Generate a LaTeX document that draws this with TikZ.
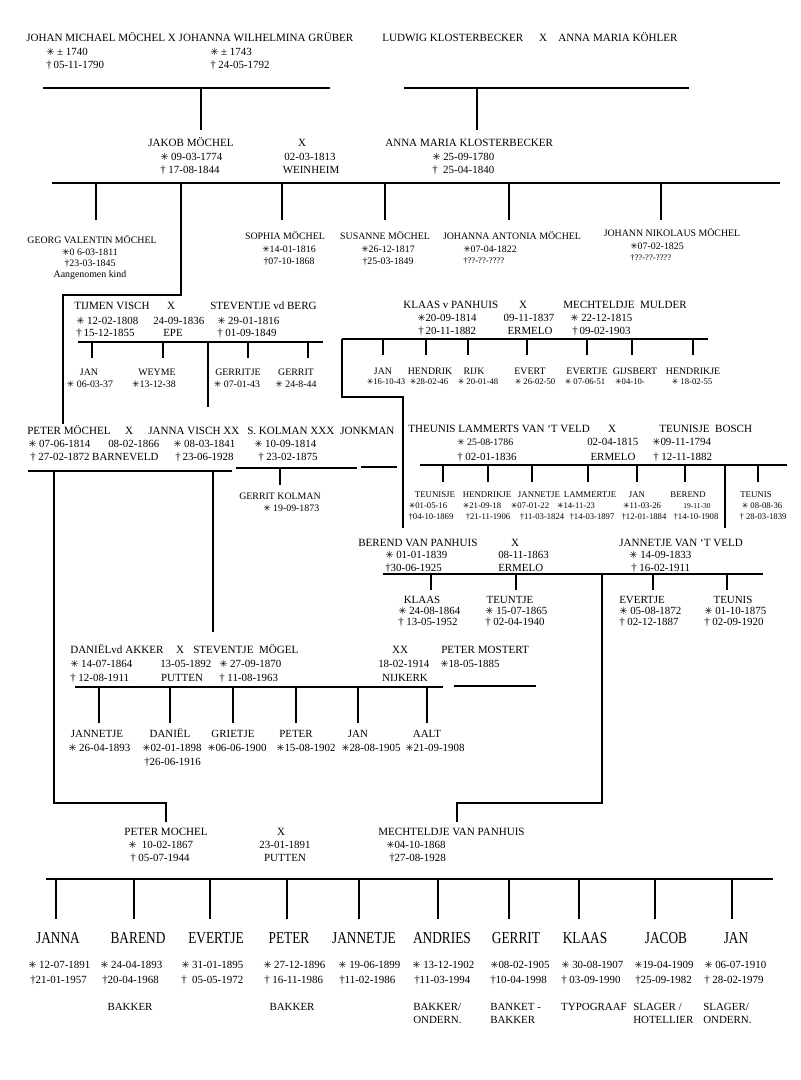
\documentclass[tikz,border=0pt]{standalone}
\usepackage{fontspec}
\usepackage{graphicx}
\setmainfont{Liberation Serif}
\newfontfamily\symf{DejaVu Sans}
\newcommand\geb{{\symf\scalebox{0.9}{✳}}}
\newcommand\gest{†}
\newcommand\tall[1]{\scalebox{1}[1.25]{#1}}

\tikzset{
  nm/.style={inner sep=0pt, font=\fontsize{8.3}{10}\selectfont, text height=5.5pt, text depth=0pt},
  dt/.style={inner sep=0pt, font=\fontsize{8.2}{10}\selectfont, text height=5.4pt, text depth=0pt},
  sm/.style={inner sep=0pt, font=\fontsize{7.4}{9}\selectfont, text height=4.9pt, text depth=0pt},
  tn/.style={inner sep=0pt, font=\fontsize{6.6}{8}\selectfont, text height=4.4pt, text depth=0pt},
  xs/.style={inner sep=0pt, font=\fontsize{6.5}{8}\selectfont, text height=4.3pt, text depth=0pt},
  bn/.style={inner sep=0pt, font=\fontsize{10}{12}\selectfont},
  famline/.style={line width=2.2pt},
  thinline/.style={line width=1.3pt},
  kidline/.style={line width=0.9pt},
}

\begin{document}
\begin{tikzpicture}[x=0.75pt, y=-0.75pt]
\fill[white] (0,0) rectangle (800,1080);

% Moechel x Grueber
\node[nm, anchor=west] (johan) at (26,38) {JOHAN MICHAEL MÖCHEL X JOHANNA WILHELMINA GRÜBER};
\node[dt, anchor=west] (johanb) at (46,52) {\geb\ ± 1740};
\node[dt, anchor=west] (johand) at (46,65) {\gest\,05-11-1790};
\node[dt, anchor=west] (johannab) at (210,52) {\geb\ ± 1743};
\node[dt, anchor=west] (johannad) at (210,65) {\gest\ 24-05-1792};
\coordinate (g1l) at (43,88);
\coordinate (g1r) at (330,88);
\coordinate (g1m) at (201,88);
\draw[famline] (g1l) -- (g1r);
\draw[famline] (g1m) -- ++(0,42);

% Klosterbecker x Koehler
\node[nm, anchor=west] (ludwig) at (382,38) {LUDWIG KLOSTERBECKER};
\node[nm] (x1) at (543,38) {X};
\node[nm, anchor=west] (koehler) at (558,38) {ANNA MARIA KÖHLER};
\coordinate (g2l) at (404,88);
\coordinate (g2r) at (689,88);
\coordinate (g2m) at (477,88);
\draw[thinline] (g2l) -- (g2r);
\draw[thinline] (g2m) -- ++(0,42);

% Jakob Moechel x Anna Maria Klosterbecker
\node[nm] (jakob) at (191,143) {JAKOB MÖCHEL};
\node[dt, anchor=west] (jakobb) at (160,157) {\geb\ 09-03-1774};
\node[dt, anchor=west] (jakobd) at (160,170) {\gest\ 17-08-1844};
\node[nm] (x2) at (302,143) {X};
\node[dt] (x2d) at (310,157) {02-03-1813};
\node[dt] (x2p) at (311,170) {WEINHEIM};
\node[nm, anchor=west] (annam) at (385,143) {ANNA MARIA KLOSTERBECKER};
\node[dt, anchor=west] (annamb) at (432,157) {\geb\ 25-09-1780};
\node[dt, anchor=west] (annamd) at (432,170) {\gest\ \ 25-04-1840};
\coordinate (g3l) at (52,183);
\coordinate (g3r) at (780,183);
\draw[famline] (g3l) -- (g3r);

\node[sm] (georg) at (92,240) {GEORG VALENTIN MÖCHEL};
\node[sm] (georgb) at (90,252) {\geb 0 6-03-1811};
\node[sm] (georgd) at (90,263) {\gest 23-03-1845};
\node[sm] (georgn) at (90,274) {Aangenomen kind};
\node[sm] (sophia) at (285,236) {SOPHIA MÖCHEL};
\node[sm] (sophiab) at (289,249) {\geb 14-01-1816};
\node[sm] (sophiad) at (289,261) {\gest 07-10-1868};
\node[sm] (susanne) at (385,236) {SUSANNE MÖCHEL};
\node[sm] (susanneb) at (388,249) {\geb 26-12-1817};
\node[sm] (susanned) at (388,261) {\gest 25-03-1849};
\node[sm] (johannaa) at (512,236) {JOHANNA ANTONIA MÖCHEL};
\node[sm, anchor=west] (johannaab) at (463,249) {\geb 07-04-1822};
\node[xs, anchor=west] (johannaad) at (463,261) {\gest ??-??-????};
\node[sm] (johannn) at (672,233) {JOHANN NIKOLAUS MÖCHEL};
\node[sm, anchor=west] (johannnb) at (630,246) {\geb 07-02-1825};
\node[xs, anchor=west] (johannnd) at (630,258) {\gest ??-??-????};
\draw[kidline] (georg |- g3l) ++(4,0) -- ++(0,37);
\draw[kidline] (sophia |- g3l) ++(-3,0) -- ++(0,37);
\draw[kidline] (susanne |- g3l) -- ++(0,37);
\draw[kidline] (johannaa |- g3l) ++(-3,0) -- ++(0,37);
\draw[kidline] (johannn |- g3l) ++(-11,0) -- ++(0,37);
\coordinate (pj) at (181,183);
\coordinate (pm) at (63,424);
\draw[famline] (pj) -- ++(0,112) -| (pm);

% Visch x vd Berg
\node[nm, anchor=west] (tijmen) at (74,306) {TIJMEN VISCH};
\node[nm] (x3) at (171,306) {X};
\node[nm, anchor=west] (stevb) at (210,306) {STEVENTJE vd BERG};
\node[dt, anchor=west] (tijmenb) at (76,321) {\geb\ 12-02-1808};
\node[dt, anchor=west] (x3d) at (153,321) {24-09-1836};
\node[dt, anchor=west] (stevbb) at (217,321) {\geb\ 29-01-1816};
\node[dt, anchor=west] (tijmend) at (76,333) {\gest\,15-12-1855};
\node[dt] (x3p) at (173,333) {EPE};
\node[dt, anchor=west] (stevbd) at (217,333) {\gest\ 01-09-1849};
\coordinate (g4l) at (78,342);
\coordinate (g4r) at (323,342);
\draw[thinline] (g4l) -- (g4r);
\coordinate (jv) at (208,342);
\draw[thinline] (jv) -- ++(0,65);

\node[sm] (jan1) at (89,372) {JAN};
\node[sm] (jan1b) at (90,384) {\geb\ 06-03-37};
\node[sm] (weyme) at (157,372) {WEYME};
\node[sm] (weymeb) at (154,384) {\geb 13-12-38};
\node[sm] (gerritje) at (238,372) {GERRITJE};
\node[sm] (gerritjeb) at (237,384) {\geb\ 07-01-43};
\node[sm] (gerrit1) at (296,372) {GERRIT};
\node[sm] (gerrit1b) at (296,384) {\geb\ 24-8-44};
\draw[kidline] (jan1 |- g4l) ++(3,0) -- ++(0,16);
\draw[kidline] (weyme |- g4l) ++(6,0) -- ++(0,16);
\draw[kidline] (gerritje |- g4l) ++(10,0) -- ++(0,16);
\draw[kidline] (gerrit1 |- g4l) ++(12,0) -- ++(0,16);

% Klaas v Panhuis x Mechteldje Mulder
\node[nm, anchor=west] (klaas) at (403,305) {KLAAS v PANHUIS};
\node[nm] (x4) at (523,305) {X};
\node[nm, anchor=west] (mmulder) at (563,305) {MECHTELDJE\ \ MULDER};
\node[dt, anchor=west] (klaasb) at (417,318) {\geb 20-09-1814};
\node[dt] (x4d) at (529,318) {09-11-1837};
\node[dt, anchor=west] (mmulderb) at (570,318) {\geb\ 22-12-1815};
\node[dt, anchor=west] (klaasd) at (418,331) {\gest\,20-11-1882};
\node[dt] (x4p) at (530,331) {ERMELO};
\node[dt, anchor=west] (mmulderd) at (572,331) {\gest\,09-02-1903};
\coordinate (g5l) at (342,339);
\coordinate (g5r) at (708,339);
\draw[thinline] (g5l) -- (g5r);
\coordinate (bv) at (403,528);
\draw[thinline] (g5l) -- ++(0,58) -| (bv);

\node[sm] (jan2) at (383,371) {JAN};
\node[xs] (jan2b) at (386,382) {\geb 16-10-43};
\node[sm] (hendrik) at (430,371) {HENDRIK};
\node[xs] (hendrikb) at (429,382) {\geb 28-02-46};
\node[sm] (rijk) at (474,371) {RIJK};
\node[xs] (rijkb) at (478,382) {\geb\ 20-01-48};
\node[sm] (evert) at (530,371) {EVERT};
\node[xs] (evertb) at (535,382) {\geb\ 26-02-50};
\node[sm] (evertje1) at (587,371) {EVERTJE};
\node[xs] (evertje1b) at (585,382) {\geb\ 07-06-51};
\node[sm] (gijsbert) at (635,371) {GIJSBERT};
\node[xs] (gijsbertb) at (630,382) {\geb 04-10-};
\node[sm] (hendrikje1) at (693,371) {HENDRIKJE};
\node[xs] (hendrikje1b) at (692,382) {\geb\ 18-02-55};
\draw[kidline] (jan2 |- g5l) -- ++(0,16);
\draw[kidline] (hendrik |- g5l) ++(-4,0) -- ++(0,16);
\draw[kidline] (rijk |- g5l) ++(-6,0) -- ++(0,16);
\draw[kidline] (evert |- g5l) ++(-3,0) -- ++(0,16);
\draw[kidline] (evertje1 |- g5l) -- ++(0,16);
\draw[kidline] (gijsbert |- g5l) ++(-3,0) -- ++(0,16);
\draw[kidline] (hendrikje1 |- g5l) -- ++(0,16);

% Peter Moechel x Janna Visch
\node[nm, anchor=west] (peterm) at (27,431) {PETER MÖCHEL};
\node[nm] (x5) at (129,431) {X};
\node[nm, anchor=west] (jannav) at (148,431) {JANNA VISCH XX};
\node[nm, anchor=west] (kolman) at (247,431) {S. KOLMAN XXX};
\node[nm, anchor=west] (jonkman) at (340,431) {JONKMAN};
\node[dt, anchor=west] (petermb) at (28,444) {\geb\ 07-06-1814};
\node[dt, anchor=west] (x5d) at (108,444) {08-02-1866};
\node[dt, anchor=west] (jannavb) at (173,444) {\geb\ 08-03-1841};
\node[dt, anchor=west] (kolmanb) at (254,444) {\geb\ 10-09-1814};
\node[dt, anchor=west] (petermd) at (30,457) {\gest\ 27-02-1872 BARNEVELD};
\node[dt, anchor=west] (jannavd) at (175,457) {\gest\,23-06-1928};
\node[dt, anchor=west] (kolmand) at (258,457) {\gest\ 23-02-1875};
\coordinate (g6l) at (28,471);
\coordinate (g6r) at (232,471);
\draw[famline] (g6l) -- (g6r);
\coordinate (g7l) at (236,468);
\coordinate (g7r) at (357,468);
\draw[thinline] (g7l) -- (g7r);
\coordinate (g8l) at (361,467);
\coordinate (g8r) at (397,467);
\draw[thinline] (g8l) -- (g8r);
\coordinate (pml) at (54,471);
\coordinate (pmt) at (166,822);
\draw[famline] (pml) -- ++(0,332) -| (pmt);
\coordinate (stm) at (213,471);
\draw[thinline] (stm) -- ++(0,161);

\node[sm] (gkolman) at (280,496) {GERRIT KOLMAN};
\node[sm, anchor=west] (gkolmanb) at (263,508) {\geb\ 19-09-1873};
\draw[kidline] (gkolman |- g7l) -- ++(0,17);

% Theunis Lammerts van 't Veld x Teunisje Bosch
\node[nm, anchor=west] (theunis) at (408,429) {THEUNIS LAMMERTS VAN ‘T VELD};
\node[nm] (x6) at (612,429) {X};
\node[nm, anchor=west] (tbosch) at (659,429) {TEUNISJE\ \ BOSCH};
\node[sm, anchor=west] (theunisb) at (457,442) {\geb\ 25-08-1786};
\node[dt, anchor=west] (x6d) at (587,442) {02-04-1815};
\node[dt, anchor=west] (tboschb) at (652,442) {\geb 09-11-1794};
\node[dt, anchor=west] (theunisd) at (457,457) {\gest\ 02-01-1836};
\node[dt] (x6p) at (613,457) {ERMELO};
\node[dt, anchor=west] (tboschd) at (653,457) {\gest\ 12-11-1882};
\coordinate (g9l) at (420,465);
\coordinate (g9r) at (787,465);
\draw[thinline] (g9l) -- (g9r);
\coordinate (jvv) at (725,465);
\draw[thinline] (jvv) -- ++(0,63);

\node[tn] (teunisje1) at (435,495) {TEUNISJE};
\node[xs] (teunisje1b) at (428,506) {\geb 01-05-16};
\node[xs] (teunisje1d) at (431,517) {\gest 04-10-1869};
\node[tn] (hendrikje2) at (487,495) {HENDRIKJE};
\node[xs] (hendrikje2b) at (482,506) {\geb 21-09-18};
\node[xs] (hendrikje2d) at (488,517) {\gest 21-11-1906};
\node[tn] (jannetje1) at (539,495) {JANNETJE};
\node[xs] (jannetje1b) at (530,506) {\geb 07-01-22};
\node[xs] (jannetje1d) at (542,517) {\gest 11-03-1824};
\node[tn] (lammertje) at (590,495) {LAMMERTJE};
\node[xs] (lammertjeb) at (576,506) {\geb 14-11-23};
\node[xs] (lammertjed) at (592,517) {\gest 14-03-1897};
\node[tn] (jan3) at (637,495) {JAN};
\node[xs] (jan3b) at (642,506) {\geb 11-03-26};
\node[xs] (jan3d) at (644,517) {\gest 12-01-1884};
\node[tn] (berend1) at (688,495) {BEREND};
\node[xs, font=\fontsize{5.6}{7}\selectfont] (berend1b) at (697,506) {19-11-30};
\node[xs] (berend1d) at (696,517) {\gest 14-10-1908};
\node[tn] (teunis1) at (756,495) {TEUNIS};
\node[xs] (teunis1b) at (762,506) {\geb\ 08-08-36};
\node[xs] (teunis1d) at (763,517) {\gest\ 28-03-1839};
\draw[kidline] (teunisje1 |- g9l) ++(8,0) -- ++(0,17);
\draw[kidline] (hendrikje2 |- g9l) ++(1,0) -- ++(0,17);
\draw[kidline] (jannetje1 |- g9l) ++(-7,0) -- ++(0,17);
\draw[kidline] (lammertje |- g9l) ++(-2,0) -- ++(0,17);
\draw[kidline] (jan3 |- g9l) -- ++(0,17);
\draw[kidline] (berend1 |- g9l) ++(-3,0) -- ++(0,17);
\draw[kidline] (teunis1 |- g9l) ++(2,0) -- ++(0,17);

% Berend van Panhuis x Jannetje van 't Veld
\node[nm, anchor=west] (berend) at (358,543) {BEREND VAN PANHUIS};
\node[nm] (x7) at (515,543) {X};
\node[nm, anchor=west] (jannetjev) at (619,543) {JANNETJE VAN ‘T VELD};
\node[dt, anchor=west] (berendb) at (385,555) {\geb\ 01-01-1839};
\node[dt, anchor=west] (x7d) at (498,555) {08-11-1863};
\node[dt, anchor=west] (jannetjevb) at (629,555) {\geb\ 14-09-1833};
\node[dt, anchor=west] (berendd) at (385,568) {\gest 30-06-1925};
\node[dt, anchor=west] (x7p) at (498,568) {ERMELO};
\node[dt, anchor=west] (jannetjevd) at (631,568) {\gest\ 16-02-1911};
\coordinate (g10l) at (383,574);
\coordinate (g10r) at (763,574);
\draw[thinline] (g10l) -- (g10r);
\coordinate (bl) at (602,574);
\coordinate (mpt) at (457,822);
\draw[thinline] (bl) -- ++(0,229) -| (mpt);

\node[dt] (klaas2) at (422,600) {KLAAS};
\node[dt, anchor=west] (klaas2b) at (398,611) {\geb\ 24-08-1864};
\node[dt, anchor=west] (klaas2d) at (398,622) {\gest\ 13-05-1952};
\node[dt] (teuntje) at (510,600) {TEUNTJE};
\node[dt, anchor=west] (teuntjeb) at (485,611) {\geb\ 15-07-1865};
\node[dt, anchor=west] (teuntjed) at (485,622) {\gest\ 02-04-1940};
\node[dt] (evertje2) at (642,600) {EVERTJE};
\node[dt, anchor=west] (evertje2b) at (619,611) {\geb\ 05-08-1872};
\node[dt, anchor=west] (evertje2d) at (619,622) {\gest\ 02-12-1887};
\node[dt] (teunis2) at (733,600) {TEUNIS};
\node[dt, anchor=west] (teunis2b) at (704,611) {\geb\ 01-10-1875};
\node[dt, anchor=west] (teunis2d) at (704,622) {\gest\ 02-09-1920};
\draw[kidline] (klaas2 |- g10l) ++(9,0) -- ++(0,16);
\draw[kidline] (teuntje |- g10l) ++(6,0) -- ++(0,16);
\draw[kidline] (evertje2 |- g10l) ++(11,0) -- ++(0,16);
\draw[kidline] (teunis2 |- g10l) ++(-6,0) -- ++(0,16);

% Daniel vd Akker x Steventje Moegel
\node[nm, anchor=west] (daniel) at (70,650) {DANIËLvd AKKER};
\node[nm] (x8) at (180,650) {X};
\node[nm, anchor=west] (stevm) at (193,650) {STEVENTJE\ \ MÖGEL};
\node[nm] (x9) at (400,650) {XX};
\node[nm, anchor=west] (mostert) at (441,650) {PETER MOSTERT};
\node[dt, anchor=west] (danielb) at (70,664) {\geb\ 14-07-1864};
\node[dt, anchor=west] (x8d) at (160,664) {13-05-1892};
\node[dt, anchor=west] (stevmb) at (219,664) {\geb\ 27-09-1870};
\node[dt, anchor=west] (x9d) at (378,664) {18-02-1914};
\node[dt, anchor=west] (mostertb) at (440,664) {\geb 18-05-1885};
\node[dt, anchor=west] (danield) at (70,678) {\gest\ 12-08-1911};
\node[dt] (x8p) at (182,678) {PUTTEN};
\node[dt, anchor=west] (stevmd) at (219,678) {\gest\ 11-08-1963};
\node[dt] (x9p) at (405,678) {NIJKERK};
\coordinate (g11l) at (75,687);
\coordinate (g11r) at (443,687);
\draw[thinline] (g11l) -- (g11r);
\coordinate (g12l) at (454,686);
\coordinate (g12r) at (536,686);
\draw[thinline] (g12l) -- (g12r);

\node[dt] (jannetje2) at (97,734) {JANNETJE};
\node[dt, anchor=west] (jannetje2b) at (68,748) {\geb\ 26-04-1893};
\node[dt] (daniel2) at (170,734) {DANIËL};
\node[dt, anchor=west] (daniel2b) at (142,748) {\geb 02-01-1898};
\node[dt, anchor=west] (daniel2d) at (144,762) {\gest 26-06-1916};
\node[dt] (grietje) at (233,734) {GRIETJE};
\node[dt, anchor=west] (grietjeb) at (207,748) {\geb 06-06-1900};
\node[dt] (peter2) at (296,734) {PETER};
\node[dt, anchor=west] (peter2b) at (276,748) {\geb 15-08-1902};
\node[dt] (jan4) at (358,734) {JAN};
\node[dt, anchor=west] (jan4b) at (341,748) {\geb 28-08-1905};
\node[dt] (aalt) at (427,734) {AALT};
\node[dt, anchor=west] (aaltb) at (405,748) {\geb 21-09-1908};
\draw[kidline] (jannetje2 |- g11l) ++(2,0) -- ++(0,36);
\draw[kidline] (daniel2 |- g11l) -- ++(0,36);
\draw[kidline] (grietje |- g11l) -- ++(0,36);
\draw[kidline] (peter2 |- g11l) -- ++(0,36);
\draw[kidline] (jan4 |- g11l) -- ++(0,36);
\draw[kidline] (aalt |- g11l) -- ++(0,36);

% Peter Mochel x Mechteldje van Panhuis
\node[nm] (pmochel) at (166,832) {PETER MOCHEL};
\node[dt, anchor=west] (pmochelb) at (128,845) {\geb\ \ 10-02-1867};
\node[dt, anchor=west] (pmocheld) at (130,858) {\gest\ 05-07-1944};
\node[nm] (x10) at (281,832) {X};
\node[dt] (x10d) at (285,845) {23-01-1891};
\node[dt] (x10p) at (285,858) {PUTTEN};
\node[nm, anchor=west] (mpanhuis) at (378,832) {MECHTELDJE VAN PANHUIS};
\node[dt, anchor=west] (mpanhuisb) at (386,845) {\geb 04-10-1868};
\node[dt, anchor=west] (mpanhuisd) at (389,858) {\gest 27-08-1928};
\coordinate (g13l) at (46,879);
\coordinate (g13r) at (773,879);
\draw[famline] (g13l) -- (g13r);

\node[bn] (janna) at (58,938) {\tall{JANNA}};
\node[bn] (barend) at (138,938) {\tall{BAREND}};
\node[bn] (evertje3) at (216,938) {\tall{EVERTJE}};
\node[bn] (peter3) at (289,938) {\tall{PETER}};
\node[bn] (jannetje3) at (364,938) {\tall{JANNETJE}};
\node[bn] (andries) at (442,938) {\tall{ANDRIES}};
\node[bn] (gerrit2) at (516,938) {\tall{GERRIT}};
\node[bn] (klaas3) at (585,938) {\tall{KLAAS}};
\node[bn] (jacob) at (666,938) {\tall{JACOB}};
\node[bn] (jan5) at (736,938) {\tall{JAN}};
\draw[kidline] (janna |- g13l) ++(-2,0) -- ++(0,40);
\draw[kidline] (barend |- g13l) ++(-4,0) -- ++(0,40);
\draw[kidline] (evertje3 |- g13l) ++(-6,0) -- ++(0,40);
\draw[kidline] (peter3 |- g13l) ++(-2,0) -- ++(0,40);
\draw[kidline] (jannetje3 |- g13l) ++(-5,0) -- ++(0,40);
\draw[kidline] (andries |- g13l) ++(-4,0) -- ++(0,40);
\draw[kidline] (gerrit2 |- g13l) ++(-7,0) -- ++(0,40);
\draw[kidline] (klaas3 |- g13l) ++(-6,0) -- ++(0,40);
\draw[kidline] (jacob |- g13l) ++(-11,0) -- ++(0,40);
\draw[kidline] (jan5 |- g13l) ++(-4,0) -- ++(0,40);

\node[dt, anchor=west] (jannab) at (28,965) {\geb\ 12-07-1891};
\node[dt, anchor=west] (jannad) at (30,980) {\gest 21-01-1957};
\node[dt, anchor=west] (barendb) at (100,965) {\geb\ 24-04-1893};
\node[dt, anchor=west] (barendd) at (102,980) {\gest 20-04-1968};
\node[dt, anchor=west] (evertje3b) at (181,965) {\geb\ 31-01-1895};
\node[dt, anchor=west] (evertje3d) at (181,980) {\gest\ \ 05-05-1972};
\node[dt, anchor=west] (peter3b) at (263,965) {\geb\ 27-12-1896};
\node[dt, anchor=west] (peter3d) at (264,980) {\gest\ 16-11-1986};
\node[dt, anchor=west] (jannetje3b) at (338,965) {\geb\ 19-06-1899};
\node[dt, anchor=west] (jannetje3d) at (339,980) {\gest 11-02-1986};
\node[dt, anchor=west] (andriesb) at (412,965) {\geb\ 13-12-1902};
\node[dt, anchor=west] (andriesd) at (414,980) {\gest 11-03-1994};
\node[dt, anchor=west] (gerrit2b) at (490,965) {\geb 08-02-1905};
\node[dt, anchor=west] (gerrit2d) at (490,980) {\gest 10-04-1998};
\node[dt, anchor=west] (klaas3b) at (561,965) {\geb\ 30-08-1907};
\node[dt, anchor=west] (klaas3d) at (561,980) {\gest\ 03-09-1990};
\node[dt, anchor=west] (jacobb) at (634,965) {\geb 19-04-1909};
\node[dt, anchor=west] (jacobd) at (635,980) {\gest 25-09-1982};
\node[dt, anchor=west] (jan5b) at (704,965) {\geb\ 06-07-1910};
\node[dt, anchor=west] (jan5d) at (704,980) {\gest\ 28-02-1979};

\node[dt] (barendo) at (130,1007) {BAKKER};
\node[dt] (peter3o) at (292,1007) {BAKKER};
\node[dt, anchor=west] (andrieso) at (413,1007) {BAKKER/};
\node[dt, anchor=west] (andrieso2) at (413,1020) {ONDERN.};
\node[dt, anchor=west] (gerrit2o) at (490,1007) {BANKET -};
\node[dt, anchor=west] (gerrit2o2) at (490,1020) {BAKKER};
\node[dt] (klaas3o) at (594,1007) {TYPOGRAAF};
\node[dt, anchor=west] (jacobo) at (633,1007) {SLAGER /};
\node[dt, anchor=west] (jacobo2) at (633,1020) {HOTELLIER};
\node[dt, anchor=west] (jan5o) at (703,1007) {SLAGER/};
\node[dt, anchor=west] (jan5o2) at (703,1020) {ONDERN.};
\end{tikzpicture}
\end{document}
